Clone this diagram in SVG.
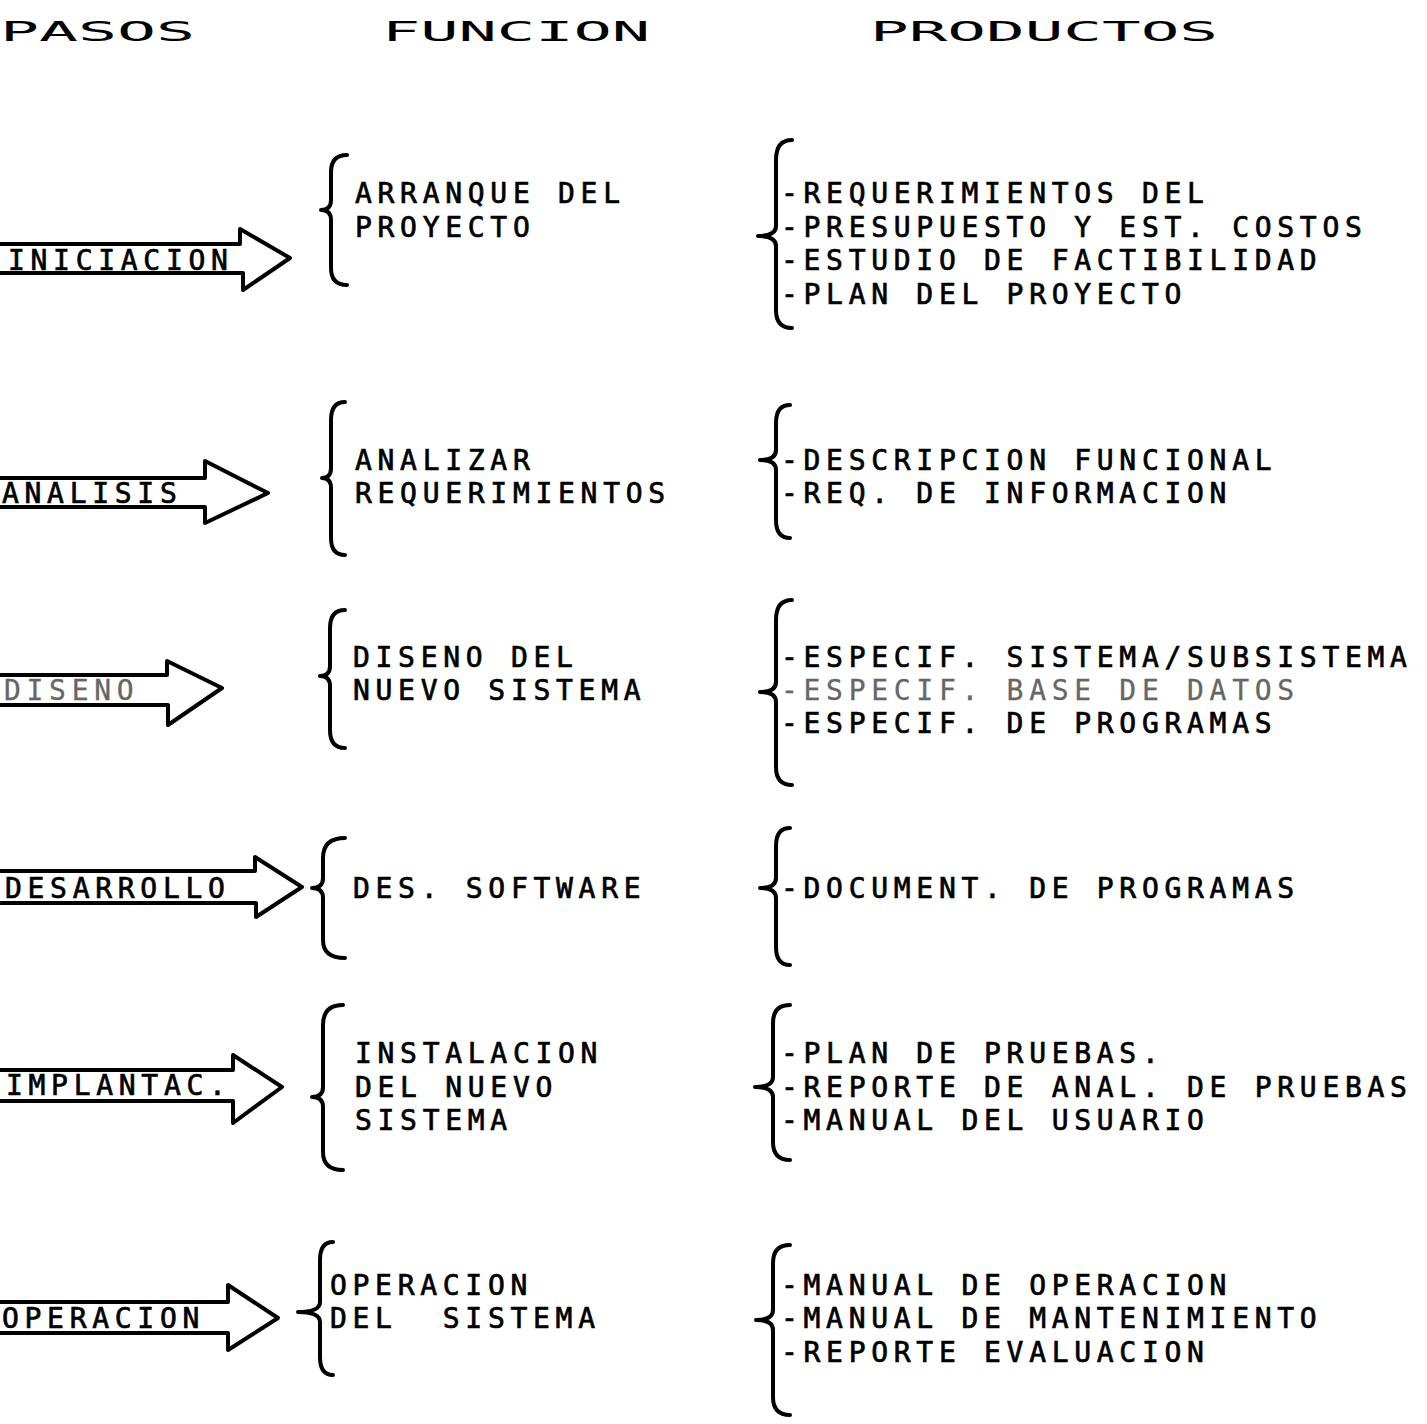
<svg xmlns="http://www.w3.org/2000/svg" width="1427" height="1424" viewBox="0 0 1427 1424">
  <style>
    .hdr { font-family: "DejaVu Sans Mono", "Liberation Mono", monospace; font-size: 27px; fill: #000; }
    .t { font-family: "DejaVu Sans Mono", "Liberation Mono", monospace; font-size: 28px; letter-spacing: 5.7px; fill: #000; stroke: #000; stroke-width: 0.7px; }
    .faint { fill: #666; stroke: #666; stroke-width: 0.3px; }
    .arrow { fill: #fff; stroke: #000; stroke-width: 4; stroke-linejoin: round; }
    .brace { fill: none; stroke: #000; stroke-width: 4; stroke-linecap: round; stroke-linejoin: round; }
  </style>
  <rect width="1427" height="1424" fill="#fff"/>

  <!-- column headings -->
  <g id="headings">
    <text class="hdr" x="0" y="41" textLength="195" lengthAdjust="spacingAndGlyphs">PASOS</text>
    <text class="hdr" x="382" y="41" textLength="268" lengthAdjust="spacingAndGlyphs">FUNCION</text>
    <text class="hdr" x="870" y="41" textLength="348" lengthAdjust="spacingAndGlyphs">PRODUCTOS</text>
  </g>

  <!-- step arrows -->
  <g id="step-iniciacion">
    <path class="arrow" d="M-6,244 L240,244 L240,229 L290,258 L243,290 L243,273 L-6,273 Z"/>
    <text class="t" x="8" y="270">INICIACION</text>
  </g>
  <g id="step-analisis">
    <path class="arrow" d="M-6,478 L205,478 L205,461 L268,493 L205,523 L205,507 L-6,507 Z"/>
    <text class="t" x="2" y="503">ANALISIS</text>
  </g>
  <g id="step-diseno">
    <path class="arrow" d="M-6,675 L167,675 L167,661 L222,688 L168,725 L168,705 L-6,705 Z"/>
    <text class="t faint" x="4" y="700">DISENO</text>
  </g>
  <g id="step-desarrollo">
    <path class="arrow" d="M-6,871 L255,871 L255,857 L302,887 L256,917 L256,903 L-6,903 Z"/>
    <text class="t" x="5" y="898">DESARROLLO</text>
  </g>
  <g id="step-implantac">
    <path class="arrow" d="M-6,1070 L233,1070 L233,1055 L282,1087 L233,1123 L233,1101 L-6,1101 Z"/>
    <text class="t" x="6" y="1095">IMPLANTAC.</text>
  </g>
  <g id="step-operacion">
    <path class="arrow" d="M-6,1302 L228,1302 L228,1285 L278,1318 L228,1350 L228,1333 L-6,1333 Z"/>
    <text class="t" x="2" y="1328">OPERACION</text>
  </g>

  <!-- curly braces joining each step to its function and products -->
  <g id="connectors">
    <path class="brace" d="M347,155 Q331,155 331,172 L331,200 Q331,210 321,210 Q331,210 331,220 L331,268 Q331,285 347,285"/>
    <path class="brace" d="M792,140 Q776,140 776,160 L776,226 Q776,236 758,236 Q776,236 776,246 L776,310 Q776,328 792,328"/>

    <path class="brace" d="M345,402 Q331,402 331,420 L331,468 Q331,478 322,478 Q331,478 331,488 L331,538 Q331,555 345,555"/>
    <path class="brace" d="M790,405 Q776,405 776,423 L776,450 Q776,460 760,460 Q776,460 776,470 L776,520 Q776,538 790,538"/>

    <path class="brace" d="M345,610 Q330,610 330,628 L330,666 Q330,676 320,676 Q330,676 330,686 L330,730 Q330,748 345,748"/>
    <path class="brace" d="M792,600 Q776,600 776,620 L776,682 Q776,692 760,692 Q776,692 776,702 L776,767 Q776,785 792,785"/>

    <path class="brace" d="M345,838 Q323,838 323,858 L323,878 Q323,888 312,888 Q323,888 323,898 L323,940 Q323,958 345,958"/>
    <path class="brace" d="M790,828 Q776,828 776,846 L776,878 Q776,888 760,888 Q776,888 776,898 L776,947 Q776,965 790,965"/>

    <path class="brace" d="M343,1005 Q323,1005 323,1025 L323,1087 Q323,1097 312,1097 Q323,1097 323,1107 L323,1152 Q323,1170 343,1170"/>
    <path class="brace" d="M790,1005 Q773,1005 773,1023 L773,1077 Q773,1087 755,1087 Q773,1087 773,1097 L773,1142 Q773,1160 790,1160"/>

    <path class="brace" d="M333,1242 Q320,1242 320,1260 L320,1302 Q320,1312 298,1312 Q320,1312 320,1322 L320,1357 Q320,1375 333,1375"/>
    <path class="brace" d="M790,1245 Q773,1245 773,1263 L773,1310 Q773,1320 756,1320 Q773,1320 773,1330 L773,1397 Q773,1415 790,1415"/>
  </g>

  <!-- functions -->
  <g id="func-iniciacion">
    <text class="t" x="355" y="203">ARRANQUE DEL</text>
    <text class="t" x="355" y="237">PROYECTO</text>
  </g>
  <g id="func-analisis">
    <text class="t" x="355" y="470">ANALIZAR</text>
    <text class="t" x="355" y="503">REQUERIMIENTOS</text>
  </g>
  <g id="func-diseno">
    <text class="t" x="353" y="667">DISENO DEL</text>
    <text class="t" x="353" y="700">NUEVO SISTEMA</text>
  </g>
  <g id="func-desarrollo">
    <text class="t" x="353" y="898">DES. SOFTWARE</text>
  </g>
  <g id="func-implantac">
    <text class="t" x="355" y="1063">INSTALACION</text>
    <text class="t" x="355" y="1097">DEL NUEVO</text>
    <text class="t" x="355" y="1130">SISTEMA</text>
  </g>
  <g id="func-operacion">
    <text class="t" x="330" y="1295">OPERACION</text>
    <text class="t" x="330" y="1328" xml:space="preserve">DEL  SISTEMA</text>
  </g>

  <!-- products -->
  <g id="prod-iniciacion">
    <text class="t" x="781" y="203">-REQUERIMIENTOS DEL</text>
    <text class="t" x="781" y="237">-PRESUPUESTO Y EST. COSTOS</text>
    <text class="t" x="781" y="270">-ESTUDIO DE FACTIBILIDAD</text>
    <text class="t" x="781" y="304">-PLAN DEL PROYECTO</text>
  </g>
  <g id="prod-analisis">
    <text class="t" x="781" y="470">-DESCRIPCION FUNCIONAL</text>
    <text class="t" x="781" y="503">-REQ. DE INFORMACION</text>
  </g>
  <g id="prod-diseno">
    <text class="t" x="781" y="667">-ESPECIF. SISTEMA/SUBSISTEMA</text>
    <text class="t faint" x="781" y="700">-ESPECIF. BASE DE DATOS</text>
    <text class="t" x="781" y="733">-ESPECIF. DE PROGRAMAS</text>
  </g>
  <g id="prod-desarrollo">
    <text class="t" x="781" y="898">-DOCUMENT. DE PROGRAMAS</text>
  </g>
  <g id="prod-implantac">
    <text class="t" x="781" y="1063">-PLAN DE PRUEBAS.</text>
    <text class="t" x="781" y="1097">-REPORTE DE ANAL. DE PRUEBAS</text>
    <text class="t" x="781" y="1130">-MANUAL DEL USUARIO</text>
  </g>
  <g id="prod-operacion">
    <text class="t" x="781" y="1295">-MANUAL DE OPERACION</text>
    <text class="t" x="781" y="1328">-MANUAL DE MANTENIMIENTO</text>
    <text class="t" x="781" y="1362">-REPORTE EVALUACION</text>
  </g>
</svg>
